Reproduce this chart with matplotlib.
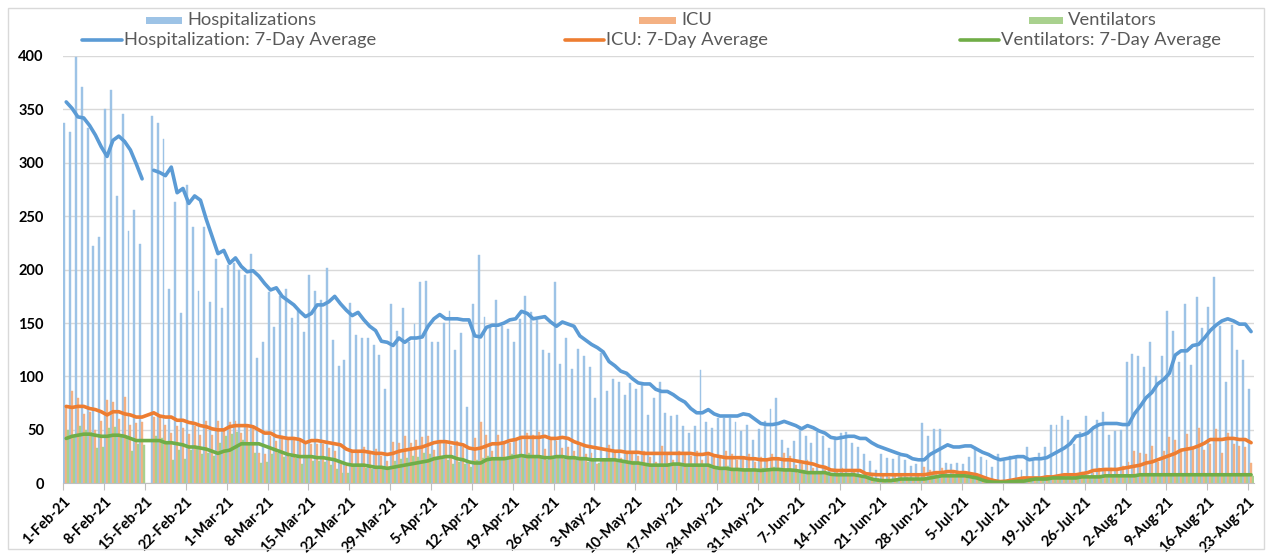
import numpy as np
import matplotlib.pyplot as plt
from matplotlib.patches import Rectangle
from matplotlib.lines import Line2D

nan = np.nan

# daily values, 1-Feb-21 .. 23-Aug-21 (15-Feb has no data)
hospitalizations = [
    337, 329, 399, 371, 333, 222, 231, 350, 368, 269, 346, 236, 256, 224,
    nan,
    344, 337, 322, 182, 263, 159, 279, 240, 180, 240, 170, 210, 164, 204, 206, 200, 195, 215, 117,
    132, 179, 146, 175, 182, 155, 161, 142, 195, 180, 172, 202, 134, 110, 115, 169, 139, 136, 136, 129,
    120, 88, 168, 143, 164, 132, 149, 188, 189, 132, 132, 150, 161, 125,
    141, 71, 168, 214, 156, 147, 172, 147, 144, 132, 154, 175, 160, 153, 125, 122, 188, 112, 136, 107,
    126, 119, 109, 80, 122, 86, 98, 95, 83, 94, 88, 93, 64, 80,
    95, 66, 63, 64, 54, 47, 54, 106, 57, 52, 61, 61, 61, 57, 49, 55, 41, 51, 58, 70,
    80, 41, 33, 40, 51, 44, 38, 48, 44, 33, 43, 47, 48, 38, 34,
    27, 21, 12, 27, 24, 23, 26, 22, 16, 18, 56, 44, 51, 51, 19, 18, 19, 18, 25, 34,
    25, 22, 15, 27, 21, 26, 25, 12, 34, 21, 28, 34, 55, 55,
    63, 59, 37, 48, 63, 49, 59, 67, 45, 49, 50, 114, 121, 119, 109, 132, 100, 119, 161, 143,
    114, 168, 111, 174, 145, 165, 193, 147, 95, 148, 125, 115, 88,
]
icu = [
    72, 86, 80, 65, 67, 50, 58, 78, 76, 60, 81, 55, 56, 57,
    nan,
    62, 62, 55, 47, 54, 52, 46, 54, 45, 58, 45, 58, 50, 57, 58, 47, 55, 52, 28,
    27, 44, 40, 44, 42, 41, 41, 37, 37, 37, 37, 33, 30, 18, 16, 31, 30, 34, 30, 32,
    26, 21, 39, 38, 44, 38, 41, 43, 44, 31, 39, 39, 35,
    40, 34, 18, 42, 57, 45, 30, 45, 37, 38, 40, 42, 47, 45, 48, 32, 42, 40, 33, 34,
    30, 35, 27, 28, 18, 22, 36, 30, 24, 27, 29, 26, 30, 25, 20,
    35, 28, 22, 30, 28, 26, 30, 22, 28, 26, 24, 30, 27, 22, 25, 27, 20, 25, 22, 27,
    22, 28, 26, 17, 18, 22, 14, 10, 15, 9, 12, 14, 10, 11, 8,
    9, 7, 5, 8, 6, 7, 8, 6, 5, 7, 15, 12, 10, 14, 9, 11, 10, 8, 9, 7,
    4, 3, 2, 1, 2, 3, 4, 3, 6, 5, 5, 7, 6, 8, 7, 9, 8, 11, 8, 10,
    14, 12, 14, 13, 16,
    20, 30, 28, 27, 35, 20, 30, 43, 41, 32, 46, 34, 52, 31, 37, 51, 28, 47, 37, 35, 34, 19,
]
ventilators = [
    50, 44, 54, 50, 48, 33, 34, 52, 53, 45, 44, 30, 37, 36,
    nan,
    44, 42, 38, 22, 31, 23, 31, 32, 27, 28, 26, 38, 44, 46, 48, 41, 36, 28, 19,
    20, 27, 28, 25, 25, 24, 18, 25, 21, 21, 20, 17, 13, 10, 10, 16, 16, 14, 13, 14,
    13, 13, 21, 23, 24, 26, 25, 28, 27, 25, 25, 22, 18,
    20, 18, 15, 22, 24, 26, 22, 25, 24, 27, 26, 25, 28, 24, 26, 22, 25, 26, 23, 24,
    22, 25, 20, 23, 19, 21, 24, 20, 22, 19, 21, 18, 17, 16, 17,
    16, 18, 17, 19, 15, 18, 16, 17, 18, 15, 14, 16, 12, 14, 13, 12, 11, 14, 12, 15,
    14, 12, 13, 10, 12, 11, 9, 10, 8, 9, 8, 7, 9, 7, 6,
    6, 4, 3, 2, 3, 3, 4, 5, 4, 4, 5, 8, 7, 6, 7, 8, 6, 7, 5, 4,
    2, 1, 1, 1, 1, 2, 2, 3, 3, 4, 4, 5, 5, 5, 6, 5, 6, 7, 6, 7,
    7, 8, 7, 7, 8,
    8, 7, 8, 9, 8, 8, 7, 8, 9, 8, 8, 7, 8, 9, 8, 8, 7, 8, 9, 8, 8, 7,
]

# 7-day averages as drawn
hosp_avg = [
    357, 351, 343, 342, 335, 326, 315, 306, 321, 325, 320, 312, 299, 285,
    nan,
    293, 291, 288, 296, 272, 276, 262, 269, 265, 247, 231, 215, 218, 206, 211, 203, 198, 199, 194,
    187, 181, 183, 175, 171, 167, 161, 156, 159, 167, 167, 170, 175, 168, 162, 157, 160, 153, 147, 143,
    133, 132, 129, 136, 132, 136, 136, 137, 147, 154, 158, 154, 154,
    154, 153, 153, 138, 137, 146, 148, 148, 150, 153, 154, 161, 159, 154, 155, 156, 151, 147, 151, 149,
    147, 138, 134, 130, 127, 123, 114, 110, 105, 103, 98, 94, 93, 93, 88,
    86, 86, 83, 79, 76, 70, 66, 66, 69, 65, 63, 63, 63, 63, 65, 64, 60, 56, 55, 55,
    56, 58, 56, 54, 51, 54, 52, 49, 47, 43, 42, 43, 44, 44, 42,
    42, 38, 35, 33, 31, 29, 27, 26, 23, 22, 22, 27, 30, 33, 36, 34, 34, 35, 35, 32,
    29, 27, 24, 22, 23, 24, 25, 25, 22, 23, 23, 24, 27, 30,
    33, 37, 44, 45, 47, 52, 55, 56, 56, 56, 55, 55, 65, 72, 80, 85, 93, 97, 103, 120,
    124, 124, 129, 130, 136, 143, 148, 152, 154, 152, 149, 149, 142,
]
icu_avg = [
    72, 71, 72, 72, 70, 69, 67, 64, 67, 67, 65, 64, 62, 62, 64, 66, 63, 62, 62, 59,
    59, 57, 56, 54, 53, 51, 50, 50, 53, 54, 54, 54, 53, 50, 47, 47, 44, 43, 42, 42,
    41, 38, 40, 40, 39, 38, 37, 36, 32, 30, 30, 30, 29, 28, 28, 27, 28, 30, 31, 32,
    33, 34, 36, 38, 39, 39, 38,
    37, 36, 33, 32, 33, 35, 37, 37, 38, 40, 41, 43, 43, 43, 43, 44, 42, 42, 43, 42,
    39, 37, 35, 34, 33, 32, 31, 30, 30, 29, 29, 29, 28, 28, 28, 28, 28, 28, 28, 28,
    28, 27, 27, 28, 26, 25, 24, 24, 24, 24, 23, 23, 22, 22, 23, 23, 22, 22, 21, 20,
    19, 18, 16, 15, 12.5, 12, 12, 12, 12, 12,
    9, 8.4, 8, 8, 8, 8, 8, 8, 8, 8, 8, 9, 10, 10, 11, 11, 10, 10, 9, 8,
    6, 4, 2.5, 1.6, 2, 3, 4, 5, 5, 5, 5, 6, 6, 7, 8, 8, 8, 9, 10, 12,
    12.5, 13, 13, 13, 14, 15, 16, 17, 19, 20, 22, 24, 26, 28, 31, 32, 33, 35, 37.5, 41,
    41, 41, 42, 42, 41, 41, 38,
]
vent_avg = [
    42, 44, 45, 46, 46, 45, 44, 44, 45, 45, 44, 42, 40, 40, 40, 40, 40, 38, 38, 37,
    36, 34, 34, 33, 32, 30, 28, 30, 31, 34, 37, 37, 37, 37, 35, 33, 31, 29, 27, 26,
    25, 25, 25, 24, 24, 23, 22, 20, 18, 17, 17, 17, 16, 15, 15, 14, 15, 16, 17, 18,
    19, 20, 21, 23, 24, 25, 25,
    23, 22, 20, 19, 19, 22, 23, 23, 23, 24, 25, 26, 25, 25, 25, 24, 24, 25, 25, 24,
    24, 23, 23, 22, 22, 22, 22, 22, 21, 20, 19, 19, 18, 17, 17, 17, 17, 18, 18, 17,
    17, 17, 17, 17, 15, 14, 14, 13, 13, 12.5, 12.5, 12.5, 12, 12.5, 13, 13, 12.5, 12.5, 12, 11,
    10, 10, 10, 10, 8.4, 8, 8, 8, 8, 7,
    6, 4, 3, 2.5, 2.5, 3, 4, 4, 4, 4, 4, 5, 6, 7, 7, 7, 7, 7, 6, 5,
    3, 1.5, 1, 1, 1, 1.5, 2, 2, 3, 4, 4, 4, 5, 5, 5, 5, 5, 6, 6, 6,
    6, 7, 7, 7, 7, 7, 7, 8, 8, 8, 8, 8, 8, 8, 8, 8, 8, 8, 8, 8,
    8, 8, 8, 8, 8, 8, 8,
]

tick_labels = ['1-Feb-21', '8-Feb-21', '15-Feb-21', '22-Feb-21', '1-Mar-21', '8-Mar-21',
               '15-Mar-21', '22-Mar-21', '29-Mar-21', '5-Apr-21', '12-Apr-21', '19-Apr-21',
               '26-Apr-21', '3-May-21', '10-May-21', '17-May-21', '24-May-21', '31-May-21',
               '7-Jun-21', '14-Jun-21', '21-Jun-21', '28-Jun-21', '5-Jul-21', '12-Jul-21',
               '19-Jul-21', '26-Jul-21', '2-Aug-21', '9-Aug-21', '16-Aug-21', '23-Aug-21']

W, H = 1271, 556
fig = plt.figure(figsize=(W / 100, H / 100), dpi=100)
plt.rcParams['font.family'] = ['Lato', 'DejaVu Sans']

# frame round the whole chart
fig.patches.append(Rectangle((7.5 / W, 1 - 549 / H), 1256 / W, 541.5 / H, transform=fig.transFigure,
                             fill=False, edgecolor='#D9D9D9', linewidth=1))

left, right, top, bottom = 63.3, 1254.0, 56.0, 483.3
ax = fig.add_axes([left / W, 1 - bottom / H, (right - left) / W, (bottom - top) / H])

x = np.arange(len(hospitalizations))
bw = 1 / 3
c_hosp, c_icu, c_vent = '#9DC3E6', '#F4B183', '#A9D18E'
l_hosp, l_icu, l_vent = '#5B9BD5', '#ED7D31', '#70AD47'

# thin edge in the same colour so the narrow bars render solid
ax.bar(x - bw, hospitalizations, width=bw, color=c_hosp, edgecolor=c_hosp, linewidth=0.3)
ax.bar(x, icu, width=bw, color=c_icu, edgecolor=c_icu, linewidth=0.3)
ax.bar(x + bw, ventilators, width=bw, color=c_vent, edgecolor=c_vent, linewidth=0.3)

ax.plot(x, hosp_avg, color=l_hosp, lw=2.6, solid_capstyle='round')
ax.plot(x, icu_avg, color=l_icu, lw=2.6, solid_capstyle='round')
ax.plot(x, vent_avg, color=l_vent, lw=2.6, solid_capstyle='round')

ax.set_xlim(-0.5, len(x) - 0.5)
ax.set_ylim(0, 400)
ax.set_yticks(range(0, 401, 50))
ax.yaxis.grid(True, color='#D9D9D9', linewidth=1)
ax.set_axisbelow(True)
for s in ['left', 'top', 'right']:
    ax.spines[s].set_visible(False)
ax.spines['bottom'].set_color('#BFBFBF')

tick_pos = np.arange(0, len(x), 7) - 0.5
ax.set_xticks(tick_pos)
ax.set_xticklabels(tick_labels, rotation=45, ha='right', rotation_mode='anchor',
                   fontsize=10.5, fontweight='bold')
ax.tick_params(axis='x', length=5, color='#BFBFBF', pad=3)
ax.tick_params(axis='y', length=0, pad=14, labelsize=10.5)
for t in ax.get_yticklabels():
    t.set_fontweight('bold')

# legend drawn by hand, Excel style
txt = dict(fontsize=13.2, color='#595959', va='center', ha='left')
patch_entries = [('Hospitalizations', c_hosp, 146, 182),
                 ('ICU', c_icu, 639, 676),
                 ('Ventilators', c_vent, 1029, 1063)]
for label, col, x0, x1 in patch_entries:
    fig.patches.append(Rectangle((x0 / W, 1 - 24 / H), (x1 - x0) / W, 7 / H,
                                 transform=fig.transFigure, color=col, linewidth=0))
    fig.text((x1 + 5) / W, 1 - 20 / H, label, **txt)
line_entries = [('Hospitalization: 7-Day Average', l_hosp, 82, 122),
                ('ICU: 7-Day Average', l_icu, 565, 604),
                ('Ventilators: 7-Day Average', l_vent, 960, 999)]
for label, col, x0, x1 in line_entries:
    fig.lines.append(Line2D([x0 / W, x1 / W], [1 - 40 / H, 1 - 40 / H], transform=fig.transFigure,
                            color=col, lw=2.6, solid_capstyle='round'))
    fig.text((x1 + 2) / W, 1 - 40 / H, label, **txt)

fig.savefig('out.png', dpi=100)
